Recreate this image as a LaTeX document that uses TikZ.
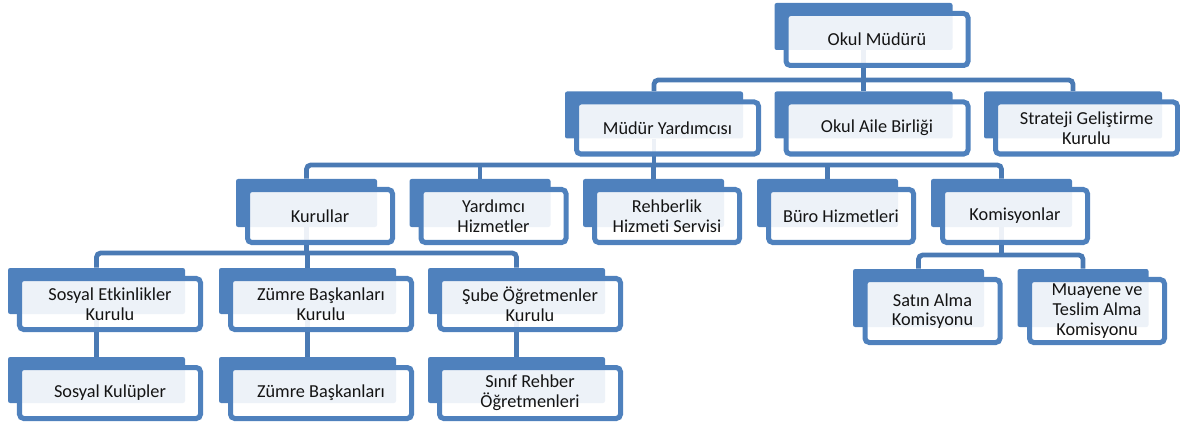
\documentclass[tikz,border=0pt]{standalone}
\usepackage{fontspec}
\setmainfont{Carlito}[Ligatures=NoCommon]
\usetikzlibrary{calc}
\definecolor{boxblue}{HTML}{4F81BD}
\definecolor{linkblue}{HTML}{4A7AB4}
\definecolor{boxtext}{HTML}{141414}

\begin{document}
\begin{tikzpicture}[x=0.025cm, y=-0.025cm,
    boxback/.style 2 args={fill=boxblue, rounded corners=1.5pt, inner sep=0pt,
      minimum width=#1*0.025cm, minimum height=#2*0.025cm},
    boxfront/.style 2 args={draw=boxblue, line width=0.125cm, rounded corners=3pt,
      fill=white, fill opacity=0.9, text opacity=1, text=boxtext, inner sep=0pt,
      minimum width=(#1+4)*0.025cm, minimum height=(#2+5)*0.025cm,
      align=center, font=\fontsize{13}{14}\selectfont},
    link/.style={draw=linkblue, line width=0.12cm, rounded corners=3pt}]
  \useasboundingbox (0,0) rectangle (1180,427);

  % back boxes
  \node[boxback={178}{47}] (mud) at (863.5,26.5) {};
  \foreach \n/\x in {my/654, oab/863.5, sgk/1073}
    \node[boxback={178}{47}] (\n) at (\x,115) {};
  \foreach \n/\x in {kur/306.5, yh/480, rhs/653.5, bh/827.5, kom/1001.5}
    \node[boxback={141}{48}] (\n) at (\x,203) {};
  \foreach \n/\x in {sek/96.5, zbk/307.5, sok/516.5}
    \node[boxback={177}{46}] (\n) at (\x,291) {};
  \foreach \n/\x in {sak/918.5, mtak/1083}
    \node[boxback={131}{58}] (\n) at (\x,298) {};
  \foreach \n/\x in {sk/96.5, zb/307.5, sro/516.5}
    \node[boxback={177}{46}] (\n) at (\x,380) {};

  % bar levels
  \coordinate (b1) at (0,80);
  \coordinate (b2) at (0,165);
  \coordinate (b3) at (0,253);
  \coordinate (b4) at (0,255);

  % connectors
  \draw[link] (mud.south) -- (mud.south |- b1);
  \draw[link] (my.north) |- (b1 -| sgk.north) -- (sgk.north);
  \draw[link] (oab.north) -- (oab.north |- b1);
  \draw[link] (my.south) -- (my.south |- b2);
  \draw[link] (kur.north) |- (b2 -| kom.north) -- (kom.north);
  \foreach \n in {yh, rhs, bh}
    \draw[link] (\n.north) -- (\n.north |- b2);
  \draw[link] (kur.south) -- (kur.south |- b3);
  \draw[link] (sek.north) |- (b3 -| sok.north) -- (sok.north);
  \draw[link] (zbk.north) -- (zbk.north |- b3);
  \draw[link] (kom.south) -- (kom.south |- b4);
  \draw[link] (sak.north) |- (b4 -| mtak.north) -- (mtak.north);
  \draw[link] (sek.south) -- (sk.north);
  \draw[link] (zbk.south) -- (zb.north);
  \draw[link] (sok.south) -- (sro.north);

  % front boxes
  \node[boxfront={178}{47}] (lmud) at ($(mud)+(13.5,13)$) {Okul Müdürü};
  \node[boxfront={178}{47}] (lmy) at ($(my)+(13.5,13)$) {Müdür Yardımcısı};
  \node[boxfront={178}{47}] (loab) at ($(oab)+(13.5,13)$) {Okul Aile Birliği};
  \node[boxfront={178}{47}] (lsgk) at ($(sgk)+(13.5,13)$) {Strateji Geliştirme\\Kurulu};
  \node[boxfront={141}{48}] (lkur) at ($(kur)+(13.5,13)$) {Kurullar};
  \node[boxfront={141}{48}] (lyh) at ($(yh)+(13.5,13)$) {Yardımcı\\Hizmetler};
  \node[boxfront={141}{48}] (lrhs) at ($(rhs)+(13.5,13)$) {Rehberlik\\Hizmeti Servisi};
  \node[boxfront={141}{48}] (lbh) at ($(bh)+(13.5,13)$) {Büro Hizmetleri};
  \node[boxfront={141}{48}] (lkom) at ($(kom)+(13.5,13)$) {Komisyonlar};
  \node[boxfront={177}{46}] (lsek) at ($(sek)+(13.5,13)$) {Sosyal Etkinlikler\\Kurulu};
  \node[boxfront={177}{46}] (lzbk) at ($(zbk)+(13.5,13)$) {Zümre Başkanları\\Kurulu};
  \node[boxfront={177}{46}] (lsok) at ($(sok)+(13.5,13)$) {Şube Öğretmenler\\Kurulu};
  \node[boxfront={131}{58}] (lsak) at ($(sak)+(14,13)$) {Satın Alma\\Komisyonu};
  \node[boxfront={131}{58}] (lmtak) at ($(mtak)+(14,13)$) {Muayene ve\\Teslim Alma\\Komisyonu};
  \node[boxfront={177}{46}] (lsk) at ($(sk)+(13.5,13)$) {Sosyal Kulüpler};
  \node[boxfront={177}{46}] (lzb) at ($(zb)+(13.5,13)$) {Zümre Başkanları};
  \node[boxfront={177}{46}] (lsro) at ($(sro)+(13.5,13)$) {Sınıf Rehber\\Öğretmenleri};
\end{tikzpicture}
\end{document}
